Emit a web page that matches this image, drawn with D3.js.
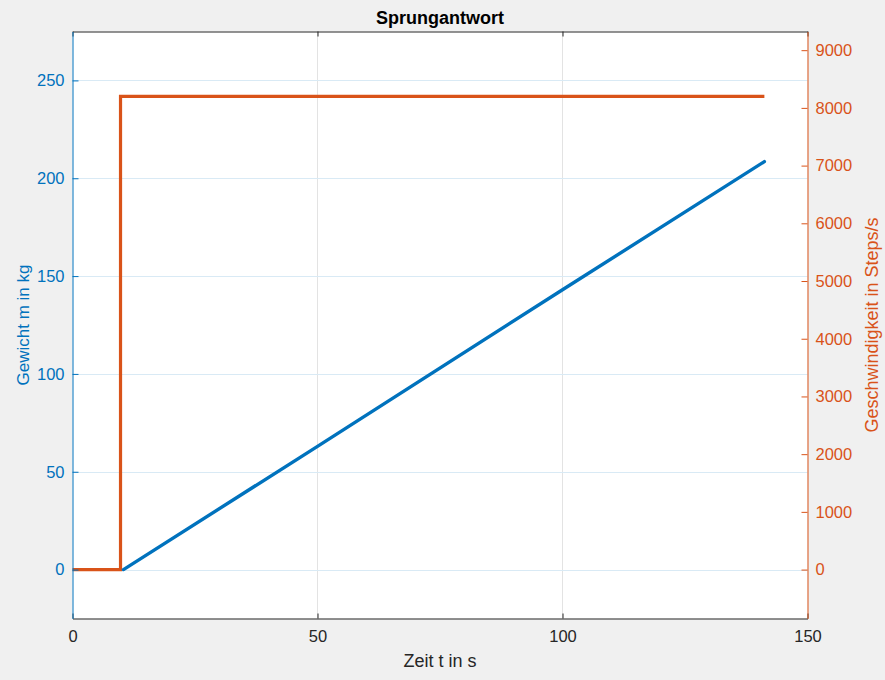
<!DOCTYPE html>
<html><head><meta charset="utf-8">
<script src="https://cdn.jsdelivr.net/npm/d3@7"></script>
<style>
html,body{margin:0;padding:0;background:#f0f0f0;}
svg{display:block;}
svg text{font-family:"Liberation Sans",Arial,Helvetica,sans-serif;}
</style></head>
<body><svg id="c" width="885" height="680"></svg>
<script>
// Data
const stepTime = [0, 9.8, 9.8, 141.2];
const stepSpeed = [0, 0, 8200, 8200];
const weightTime = [10.4, 50, 100, 141.2];
const weightKg = [0, 63, 143, 208.5];
const xTicks = [0, 50, 100, 150];
const yLeftTicks = [0, 50, 100, 150, 200, 250];
const yRightTicks = [0, 1000, 2000, 3000, 4000, 5000, 6000, 7000, 8000, 9000];

const blue = "#0072BD", orange = "#D95319", dark = "#262626";
const L = 72.5, R = 807.5, T = 31.5, B = 618.5;
const svg = d3.select("#c");
const x = d3.scaleLinear().domain([0, 150]).range([L, R]);
const yL = d3.scaleLinear().domain([-25, 275]).range([B, T]);
const yR = d3.scaleLinear().domain([-847.6, 9323.6]).range([B, T]);

svg.append("rect").attr("x", L).attr("y", T).attr("width", R - L).attr("height", B - T).attr("fill", "#fff");

// grid
const g = svg.append("g");
g.selectAll(".vg").data(xTicks.filter(d => d > 0 && d < 150)).join("line")
  .attr("x1", d => Math.round(x(d)) + 0.5).attr("x2", d => Math.round(x(d)) + 0.5)
  .attr("y1", T).attr("y2", B).attr("stroke", "#e3e3e3").attr("stroke-width", 1);
g.selectAll(".hg").data(yLeftTicks).join("line")
  .attr("y1", d => Math.round(yL(d)) + 0.5).attr("y2", d => Math.round(yL(d)) + 0.5)
  .attr("x1", L).attr("x2", R).attr("stroke", "#d9eaf5").attr("stroke-width", 1);

// lines
const stepData = stepTime.map((t, i) => [t, stepSpeed[i]]);
const wData = weightTime.map((t, i) => [t, weightKg[i]]);
svg.append("path").datum(stepData)
  .attr("d", d3.line().x(d => x(d[0])).y(d => yR(d[1])))
  .attr("fill", "none").attr("stroke", orange).attr("stroke-width", 3.2);
svg.append("path").datum(wData)
  .attr("d", d3.line().x(d => x(d[0])).y(d => yL(d[1])))
  .attr("fill", "none").attr("stroke", blue).attr("stroke-width", 3.4).attr("stroke-linecap", "round");

// axes
const fs = "16.5px";
const ff = "'Liberation Sans', Arial, Helvetica, sans-serif";
function styleAxis(sel, col) {
  sel.attr("font-family", ff).attr("font-size", null);
  sel.select(".domain").attr("stroke", col);
  sel.selectAll("line").attr("stroke", col);
  sel.selectAll("text").attr("fill", col).style("font-size", fs).style("font-family", ff);
}
const axB = d3.axisBottom(x).tickValues(xTicks).tickSizeInner(-5).tickSizeOuter(0).tickPadding(12).tickFormat(d3.format("d"));
const gb = svg.append("g").attr("transform", `translate(0,${B})`).call(axB);
styleAxis(gb, dark);
const axT = d3.axisTop(x).tickValues(xTicks).tickSizeInner(-5).tickSizeOuter(0).tickFormat("");
const gt = svg.append("g").attr("transform", `translate(0,${T})`).call(axT);
styleAxis(gt, dark);

const axLeft = d3.axisLeft(yL).tickValues(yLeftTicks).tickSizeInner(-6).tickSizeOuter(0).tickPadding(8).tickFormat(d3.format("d"));
const gl = svg.append("g").attr("transform", `translate(${L},0)`).call(axLeft);
styleAxis(gl, blue);

const axRight = d3.axisRight(yR).tickValues(yRightTicks).tickSizeInner(-6).tickSizeOuter(0).tickPadding(8).tickFormat(d3.format("d"));
const gr = svg.append("g").attr("transform", `translate(${R},0)`).call(axRight);
styleAxis(gr, orange);

// labels
svg.append("text").attr("x", (L + R) / 2).attr("y", 23.5).attr("text-anchor", "middle")
  .attr("font-weight", "bold").style("font-size", "18px").attr("fill", "#000").text("Sprungantwort");
svg.append("text").attr("x", (L + R) / 2).attr("y", 667).attr("text-anchor", "middle")
  .style("font-size", "18px").attr("fill", dark).text("Zeit t in s");
svg.append("text").attr("transform", `translate(28.5,${(T + B) / 2}) rotate(-90)`).attr("text-anchor", "middle")
  .style("font-size", "17px").attr("fill", blue).text("Gewicht m in kg");
svg.append("text").attr("transform", `translate(878,${(T + B) / 2}) rotate(-90)`).attr("text-anchor", "middle")
  .style("font-size", "18px").attr("fill", orange).text("Geschwindigkeit in Steps/s");
</script></body></html>
